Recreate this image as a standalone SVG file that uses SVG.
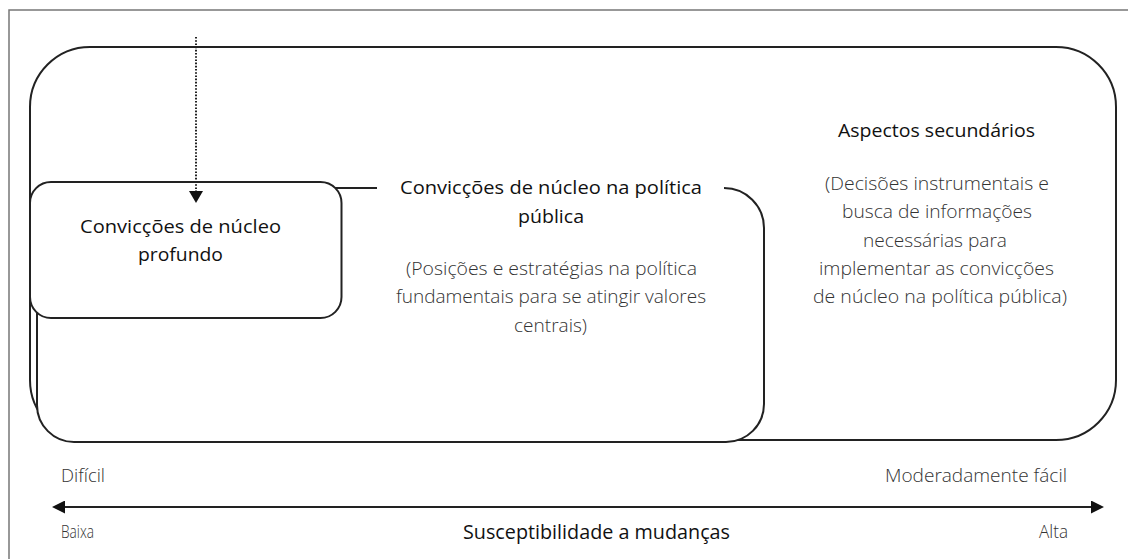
<svg xmlns="http://www.w3.org/2000/svg" width="1128" height="559" viewBox="0 0 1128 559">
<style>
.box{fill:#fff;stroke:#222;stroke-width:2}
.t{font-family:"Open Sans","Noto Sans",sans-serif;fill:#111;font-size:19px;font-weight:500}
.d{font-family:"Open Sans","Noto Sans",sans-serif;fill:#333;font-size:18px;font-weight:300}
.b{font-family:"Open Sans","Noto Sans",sans-serif;fill:#333;font-size:19px;font-weight:300}
.conn{stroke:#222;fill:none}
</style>
<defs>
<marker id="ah" markerUnits="userSpaceOnUse" markerWidth="14" markerHeight="14" viewBox="0 0 12 14" refX="0" refY="7" orient="auto-start-reverse">
<path d="M0,0 L12,7 L0,14 z" fill="#111"/>
</marker>
<marker id="ah2" markerUnits="userSpaceOnUse" markerWidth="13" markerHeight="13" viewBox="0 0 13 13" refX="0" refY="6.5" orient="auto-start-reverse">
<path d="M0,0 L13,6.5 L0,13 z" fill="#111"/>
</marker>
</defs>
<rect width="1128" height="559" fill="#fff"/>
<path d="M9 559 V10 H1128" fill="none" stroke="#777" stroke-width="1.5"/>

<g id="aspectos-secundarios">
<rect class="box" x="30" y="47" width="1086" height="393" rx="60" ry="60"/>
<text class="t" x="936.5" y="137" text-anchor="middle" textLength="197" lengthAdjust="spacingAndGlyphs">Aspectos secundários</text>
<text class="d" x="937" y="190" text-anchor="middle" textLength="224" lengthAdjust="spacingAndGlyphs">(Decisões instrumentais e</text>
<text class="d" x="937" y="218" text-anchor="middle" textLength="190" lengthAdjust="spacingAndGlyphs">busca de informações</text>
<text class="d" x="935" y="247" text-anchor="middle" textLength="144" lengthAdjust="spacingAndGlyphs">necessárias para</text>
<text class="d" x="936.5" y="275" text-anchor="middle" textLength="235" lengthAdjust="spacingAndGlyphs">implementar as convicções</text>
<text class="d" x="940" y="303" text-anchor="middle" textLength="254" lengthAdjust="spacingAndGlyphs">de núcleo na política pública)</text>
</g>

<g id="nucleo-politica-publica">
<path class="box" d="M377 188 H72 A35 35 0 0 0 37 223 V405 A37 37 0 0 0 74 442 H726 A38 38 0 0 0 764 404 V228 A40 40 0 0 0 724 188"/>
<text class="t" x="551" y="194" text-anchor="middle" textLength="302" lengthAdjust="spacingAndGlyphs">Convicções de núcleo na política</text>
<text class="t" x="551" y="223" text-anchor="middle" textLength="66" lengthAdjust="spacingAndGlyphs">pública</text>
<text class="d" x="551.5" y="275" text-anchor="middle" textLength="291" lengthAdjust="spacingAndGlyphs">(Posições e estratégias na política</text>
<text class="d" x="551" y="303" text-anchor="middle" textLength="310" lengthAdjust="spacingAndGlyphs">fundamentais para se atingir valores</text>
<text class="d" x="550.5" y="332" text-anchor="middle" textLength="73" lengthAdjust="spacingAndGlyphs">centrais)</text>
</g>

<g id="nucleo-profundo">
<rect class="box" x="30" y="182" width="311.5" height="136" rx="21" ry="21"/>
<text class="t" x="180.5" y="233" text-anchor="middle" textLength="201" lengthAdjust="spacingAndGlyphs">Convicções de núcleo</text>
<text class="t" x="180.5" y="261" text-anchor="middle" textLength="85" lengthAdjust="spacingAndGlyphs">profundo</text>
</g>

<g id="connectors">
<line class="conn" x1="196" y1="37" x2="196" y2="191" stroke-width="2" stroke-dasharray="1.6 1.6" marker-end="url(#ah)"/>
<line class="conn" x1="65" y1="507" x2="1091" y2="507" stroke-width="2" marker-start="url(#ah2)" marker-end="url(#ah2)"/>
</g>

<g id="axis-labels">
<text class="b" x="61" y="482" textLength="44" lengthAdjust="spacingAndGlyphs">Difícil</text>
<text class="b" x="1067" y="482" text-anchor="end" textLength="182" lengthAdjust="spacingAndGlyphs">Moderadamente fácil</text>
<text class="b" x="61" y="538" textLength="33" lengthAdjust="spacingAndGlyphs">Baixa</text>
<text class="t" x="596.5" y="539" text-anchor="middle" textLength="267" lengthAdjust="spacingAndGlyphs" style="font-size:20px;font-weight:400">Susceptibilidade a mudanças</text>
<text class="b" x="1068" y="538" text-anchor="end" textLength="29" lengthAdjust="spacingAndGlyphs">Alta</text>
</g>
</svg>
